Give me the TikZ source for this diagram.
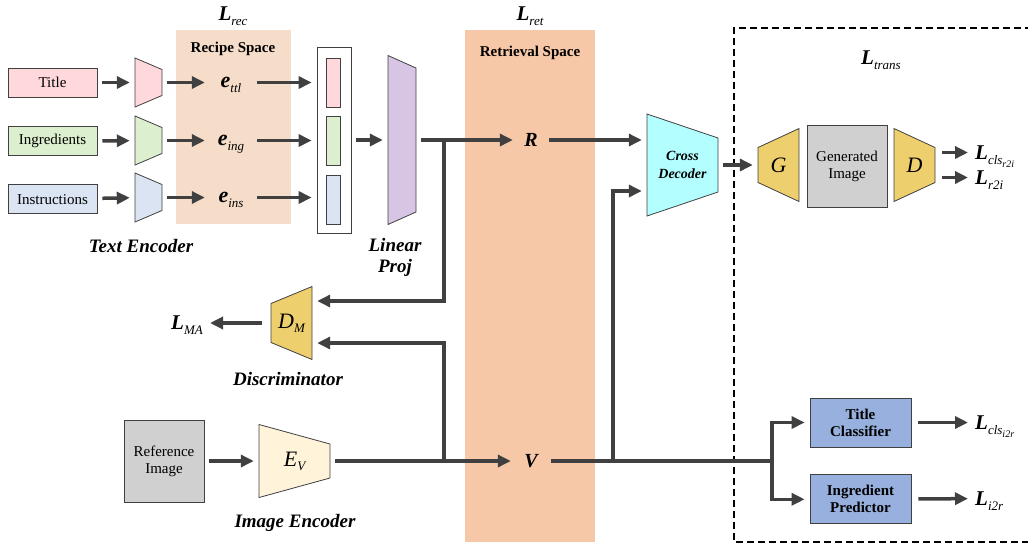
\documentclass[tikz,border=0pt]{standalone}
\usepackage{fontspec}
\setmainfont{Liberation Serif}
\usetikzlibrary{arrows.meta, positioning, calc}

\definecolor{ttlpink}{HTML}{FFD8DC}
\definecolor{inggreen}{HTML}{DCEFCF}
\definecolor{insblue}{HTML}{DBE4F3}
\definecolor{projpurple}{HTML}{D8C5E6}
\definecolor{deccyan}{HTML}{B3FFFF}
\definecolor{gangold}{HTML}{EECF6E}
\definecolor{evcream}{HTML}{FFF3D9}
\definecolor{imggray}{HTML}{D0D0D0}
\definecolor{clsblue}{HTML}{98B0DE}
\definecolor{recipebg}{HTML}{F5DDCA}
\definecolor{retrbg}{HTML}{F6C8A7}
\definecolor{arrowgray}{HTML}{404040}

% bold italic symbol with a plain italic subscript
\newcommand{\lsub}[3]{{\fontsize{#1}{#1}\selectfont\bfseries\itshape #2}\smash{\raisebox{-5pt}{\fontsize{13}{13}\selectfont\itshape #3}}}

% trapezoid: name, x, y, width, left height, right height, fill, node options, text
\newcommand{\trapbox}[9]{%
  \filldraw[fill=#7, draw=black!75, line width=0.8pt]
    ({#2-#4/2},{#3-#5/2}) -- ({#2+#4/2},{#3-#6/2}) -- ({#2+#4/2},{#3+#6/2}) -- ({#2-#4/2},{#3+#5/2}) -- cycle;
  \node[inner sep=0pt, minimum width=#4pt, minimum height=#5pt, align=center, #8] (#1) at (#2,#3) {#9};}

\begin{document}
\begin{tikzpicture}[x=1pt, y=-1pt,
    box/.style={draw=black!75, line width=0.8pt, fill=#1, align=center, inner sep=1pt,
                font=\fontsize{15}{17}\selectfont},
    box/.default=white,
    arrow/.style={-{Triangle[length=13pt, width=12pt]}, line width=3.5pt, color=arrowgray,
                  shorten <=5pt, shorten >=5pt},
    conn/.style={line width=3.5pt, color=arrowgray},
    caption/.style={font=\fontsize{19}{21}\selectfont\bfseries\itshape, align=center},
    spacelabel/.style={font=\fontsize{15}{17}\selectfont\bfseries},
    symbol/.style={font=\fontsize{22}{22}\selectfont\itshape},
    sym/.style={inner sep=2pt}
]
\useasboundingbox (0,0) rectangle (1028,550);

% Embedding spaces
\fill[recipebg] (176,30) rectangle (291,224);
\fill[retrbg] (465,30) rectangle (595,542);
\node[spacelabel] (recsp) at (233,49) {Recipe Space};
\node[spacelabel] (retsp) at (530,53) {Retrieval Space};
\node (lrec) at (233,14) {\lsub{21}{L}{rec}};
\node (lret) at (530,14) {\lsub{21}{L}{ret}};

% Translation block
\draw[dash pattern=on 7pt off 4pt, line width=1.6pt] (1032,28) -- (734,28) -- (734,542) -- (1032,542);
\node (ltrans) at (881,58) {\lsub{21}{L}{trans}};

% Recipe inputs
\node[box=ttlpink, minimum width=89pt, minimum height=29pt] (title) at (52.5,82.5) {Title};
\node[box=inggreen, minimum width=89pt, minimum height=29pt, below=29pt of title] (ingr) {Ingredients};
\node[box=insblue, minimum width=89pt, minimum height=29pt, below=28pt of ingr] (instr) {Instructions};

% Text encoders
\trapbox{encttl}{148.5}{82.5}{27}{49}{26}{ttlpink}{}{}
\trapbox{encing}{148.5}{140.5}{27}{49}{26}{inggreen}{}{}
\trapbox{encins}{148.5}{197.5}{27}{49}{26}{insblue}{}{}
\node[caption] (textenc) at (141,246) {Text Encoder};

% Recipe embeddings
\node[sym, minimum width=42pt] (ettl) at (231,82.5) {\lsub{22}{e}{ttl}};
\node[sym, minimum width=42pt] (eing) at (231,140.5) {\lsub{22}{e}{ing}};
\node[sym, minimum width=42pt] (eins) at (231,197.5) {\lsub{22}{e}{ins}};

% Stacked embedding
\node[box, minimum width=34pt, minimum height=186pt] (stack) at (334,140) {};
\node[box=ttlpink, minimum width=14pt, minimum height=49pt, inner sep=0pt] (sttl) at (333,82.5) {};
\node[box=inggreen, minimum width=14pt, minimum height=49pt, inner sep=0pt, below=9pt of sttl] (sing) {};
\node[box=insblue, minimum width=14pt, minimum height=49pt, inner sep=0pt, below=9pt of sing] (sins) {};

% Linear projection
\trapbox{proj}{402}{140}{28}{169}{144}{projpurple}{}{}
\node[caption] (projlbl) at (395,257) {Linear\\Proj};

% Recipe and image embeddings
\node[sym, font=\fontsize{20}{22}\selectfont\bfseries\itshape, minimum width=26pt] (R) at (531,140) {R};
\node[sym, font=\fontsize{20}{22}\selectfont\bfseries\itshape, minimum width=30pt] (V) at (531,461) {V};

% Cross decoder
\trapbox{xdec}{682.5}{165}{71}{102}{54}{deccyan}{font=\fontsize{14}{18}\selectfont\bfseries\itshape}{Cross\\Decoder}

% GAN part
\trapbox{gen}{778.5}{165}{41}{35}{73}{gangold}{symbol}{G}
\node[box=imggray, minimum width=80pt, minimum height=82pt] (genimg) at (847,166) {Generated\\Image};
\trapbox{dis}{914.5}{165}{41}{73}{35}{gangold}{symbol}{D}
\node[anchor=west, inner sep=2pt] (lclsr) at (973,152.5) {\lsub{21}{L}{cls\raisebox{-3pt}{\fontsize{10}{10}\selectfont r2i}}};
\node[anchor=west, inner sep=2pt] (lr2i) at (973,177.5) {\lsub{21}{L}{r2i}};

% Image side
\node[box=imggray, minimum width=80pt, minimum height=82pt] (refimg) at (164,461) {Reference\\Image};
\trapbox{ev}{294.5}{461}{71}{73}{34}{evcream}{symbol}{E\raisebox{-4pt}{\fontsize{13}{13}\selectfont V}}
\node[caption] (imgenc) at (295,523) {Image Encoder};

% Discriminator
\trapbox{dm}{291.5}{323}{41}{39}{73}{gangold}{symbol}{D\raisebox{-4pt}{\fontsize{13}{13}\selectfont M}}
\node[caption] (discr) at (288,379) {Discriminator};
\node[anchor=east, inner sep=2pt] (lma) at (205,323) {\lsub{21}{L}{MA}};

% Classifiers
\node[box=clsblue, minimum width=101pt, minimum height=49pt, font=\fontsize{15}{17}\selectfont\bfseries] (tcls) at (860.5,422.5) {Title\\Classifier};
\node[box=clsblue, minimum width=101pt, minimum height=49pt, font=\fontsize{15}{17}\selectfont\bfseries, below=27pt of tcls] (ipred) {Ingredient\\Predictor};
\node[anchor=west, inner sep=2pt] (lclsi) at (973,422.5) {\lsub{21}{L}{cls\raisebox{-3pt}{\fontsize{10}{10}\selectfont i2r}}};
\node[anchor=west, inner sep=2pt] (li2r) at (973,498.5) {\lsub{21}{L}{i2r}};

% Junctions
\coordinate (jr) at (444,140);
\coordinate (jv) at (444,461);
\coordinate (jx) at (613,461);
\coordinate (jb) at (772,461);

% Arrows
\draw[arrow] (title) -- (encttl);
\draw[arrow] (ingr) -- (encing);
\draw[arrow] (instr) -- (encins);
\draw[arrow] (encttl) -- (ettl);
\draw[arrow] (encing) -- (eing);
\draw[arrow] (encins) -- (eins);
\draw[arrow] (ettl) -- (ettl -| stack.west);
\draw[arrow] (eing) -- (eing -| stack.west);
\draw[arrow] (eins) -- (eins -| stack.west);
\draw[arrow] (stack) -- (proj);
\draw[arrow] (proj) -- (R);
\draw[arrow] (R) -- (R -| xdec.west);
\draw[arrow, shorten <=0pt] (jr) |- ([yshift=22pt]dm.east);
\draw[arrow, shorten <=0pt] (jv) |- ([yshift=-20pt]dm.east);
\draw[arrow, shorten <=9pt] (dm) -- (lma);
\draw[arrow] (refimg) -- (ev);
\draw[arrow] (ev) -- (V);
\draw[conn, shorten <=5pt] (V) -- (jb);
\draw[arrow, shorten <=0pt] (jx) |- ([yshift=-26pt]xdec.west);
\draw[arrow, shorten <=0pt] (jb) |- (tcls);
\draw[arrow, shorten <=0pt] (jb) |- (ipred);
\draw[arrow] (xdec) -- (gen);
\draw[arrow, shorten <=7pt] ([yshift=12.5pt]dis.east) -- (lclsr);
\draw[arrow, shorten <=7pt] ([yshift=-12.5pt]dis.east) -- (lr2i);
\draw[arrow, shorten <=7pt] (tcls) -- (lclsi);
\draw[arrow, shorten <=7pt] (ipred) -- (li2r);

\end{tikzpicture}
\end{document}
